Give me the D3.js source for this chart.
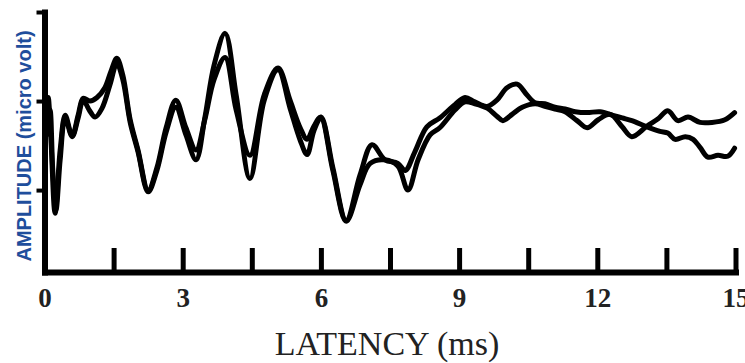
<!DOCTYPE html>
<html>
<head>
<meta charset="utf-8">
<script src="https://cdn.jsdelivr.net/npm/d3@7"></script>
<style>
  body { margin: 0; background: #fff; }
  #main svg { display: block; }
</style>
</head>
<body>
<div id="main"></div>
<script>
// latency (ms) and amplitude (arbitrary micro volt units)
var latA = [0.03, 0.08, 0.14, 0.23, 0.34, 0.45, 0.60, 0.73, 0.84, 0.99, 1.14, 1.31, 1.44, 1.57, 1.70, 1.86, 2.03, 2.25, 2.44, 2.64,
            2.85, 3.07, 3.29, 3.48, 3.68, 3.92, 4.16, 4.46, 4.77, 5.07, 5.33, 5.55, 5.70, 5.85, 6.00, 6.26, 6.55, 6.85, 7.11, 7.39,
            7.67, 7.83, 8.04, 8.30, 8.58, 8.91, 9.13, 9.34, 9.61, 9.82, 10.04, 10.26, 10.47, 10.65, 10.86, 11.08, 11.30, 11.52, 11.78, 12.06,
            12.34, 12.54, 12.75, 13.08, 13.36, 13.53, 13.69, 13.91, 14.08, 14.23, 14.40, 14.62, 14.83, 14.98];
var ampA = [0.73, 1.04, 0.56, -0.26, 0.45, 0.84, 0.61, 0.84, 1.03, 1.00, 1.04, 1.15, 1.33, 1.48, 1.29, 0.79, 0.45, 0.00, 0.25, 0.70,
            1.01, 0.70, 0.45, 0.79, 1.24, 1.49, 0.90, 0.39, 1.07, 1.37, 1.01, 0.70, 0.57, 0.72, 0.82, 0.25, -0.34, 0.17, 0.51, 0.34,
            0.30, 0.22, 0.43, 0.71, 0.81, 0.96, 1.04, 0.99, 0.94, 1.01, 1.15, 1.19, 1.07, 0.98, 0.97, 0.93, 0.91, 0.88, 0.87, 0.88,
            0.84, 0.81, 0.78, 0.71, 0.66, 0.64, 0.57, 0.60, 0.57, 0.48, 0.37, 0.39, 0.38, 0.47];

var latB = [0.05, 0.12, 0.18, 0.25, 0.34, 0.45, 0.60, 0.73, 0.84, 0.97, 1.10, 1.25, 1.42, 1.57, 1.70, 1.86, 2.03, 2.25, 2.44, 2.64,
            2.85, 3.07, 3.29, 3.48, 3.68, 3.92, 4.16, 4.46, 4.77, 5.07, 5.33, 5.55, 5.70, 5.85, 6.00, 6.26, 6.55, 6.85, 7.07, 7.39,
            7.67, 7.89, 8.11, 8.37, 8.58, 8.91, 9.13, 9.34, 9.61, 9.82, 9.95, 10.15, 10.37, 10.65, 10.86, 11.08, 11.30, 11.56, 11.78, 12.02,
            12.28, 12.54, 12.75, 13.08, 13.32, 13.53, 13.75, 13.97, 14.23, 14.49, 14.77, 14.98];
var ampB = [0.62, 0.90, 0.22, -0.22, 0.34, 0.81, 0.60, 0.81, 1.01, 0.90, 0.82, 0.92, 1.18, 1.42, 1.24, 0.76, 0.43, -0.02, 0.22, 0.65,
            0.93, 0.62, 0.34, 0.81, 1.40, 1.76, 1.07, 0.13, 1.01, 1.35, 0.92, 0.56, 0.40, 0.67, 0.81, 0.22, -0.35, 0.06, 0.30, 0.34,
            0.27, 0.00, 0.34, 0.62, 0.70, 0.90, 0.99, 0.97, 0.92, 0.83, 0.78, 0.85, 0.93, 0.97, 0.94, 0.91, 0.88, 0.78, 0.70, 0.79,
            0.85, 0.71, 0.60, 0.72, 0.80, 0.89, 0.78, 0.82, 0.76, 0.76, 0.79, 0.87];

var xTicks = [0, 1.5, 3, 4.5, 6, 7.5, 9, 10.5, 12, 13.5, 15];
var xLabels = [0, 3, 6, 9, 12, 15];
var yTicks = [0, 1, 2];

var W = 745, H = 363;

var svg = d3.select("#main")
  .append("svg")
    .attr("width", W)
    .attr("height", H);

var x = d3.scaleLinear().domain([0, 15]).range([44.5, 735.5]);
var y = d3.scaleLinear().domain([-0.92, 2]).range([272, 12]);

// x axis, ticks pointing up into the plot
var xAxis = svg.append("g")
    .attr("transform", "translate(0," + y(-0.92) + ")")
    .call(d3.axisBottom(x)
      .tickValues(xTicks)
      .tickSize(-24)
      .tickSizeOuter(0)
      .tickPadding(16)
      .tickFormat(function(d) { return xLabels.indexOf(d) >= 0 ? d : ""; }));
xAxis.select(".domain").attr("stroke-width", 6).attr("stroke-linecap", "square");
xAxis.selectAll(".tick line").attr("stroke-width", 5);
xAxis.selectAll(".tick text")
    .attr("font-family", "'Liberation Serif', 'Times New Roman', serif")
    .attr("font-weight", "bold")
    .attr("font-size", 27)
    .attr("fill", "#222");

// y axis, no labels
var yAxis = svg.append("g")
    .attr("transform", "translate(" + x(0) + ",0)")
    .call(d3.axisLeft(y)
      .tickValues(yTicks)
      .tickSize(8)
      .tickSizeOuter(0)
      .tickFormat(""));
yAxis.select(".domain").attr("stroke-width", 6).attr("stroke-linecap", "square");
yAxis.selectAll(".tick line").attr("stroke-width", 4);

// traces
var line = d3.line()
    .x(function(d) { return x(d[0]); })
    .y(function(d) { return y(d[1]); })
    .curve(d3.curveCatmullRom.alpha(0.5));

var traces = [d3.zip(latA, ampA), d3.zip(latB, ampB)];

svg.append("g")
  .selectAll("path")
  .data(traces)
  .enter()
  .append("path")
    .attr("d", line)
    .attr("fill", "none")
    .attr("stroke", "#000")
    .attr("stroke-width", 5)
    .attr("stroke-linejoin", "round")
    .attr("stroke-linecap", "round");

// axis titles
svg.append("text")
    .attr("x", 387)
    .attr("y", 355)
    .attr("text-anchor", "middle")
    .attr("font-family", "'Liberation Serif', 'Times New Roman', serif")
    .attr("font-size", 34)
    .attr("fill", "#222")
    .text("LATENCY (ms)");

svg.append("text")
    .attr("transform", "translate(31,146) rotate(-90)")
    .attr("text-anchor", "middle")
    .attr("font-family", "'Liberation Sans', Arial, sans-serif")
    .attr("font-weight", "bold")
    .attr("font-size", 20)
    .attr("fill", "#1f4e9c")
    .text("AMPLITUDE (micro volt)");
</script>
</body>
</html>
